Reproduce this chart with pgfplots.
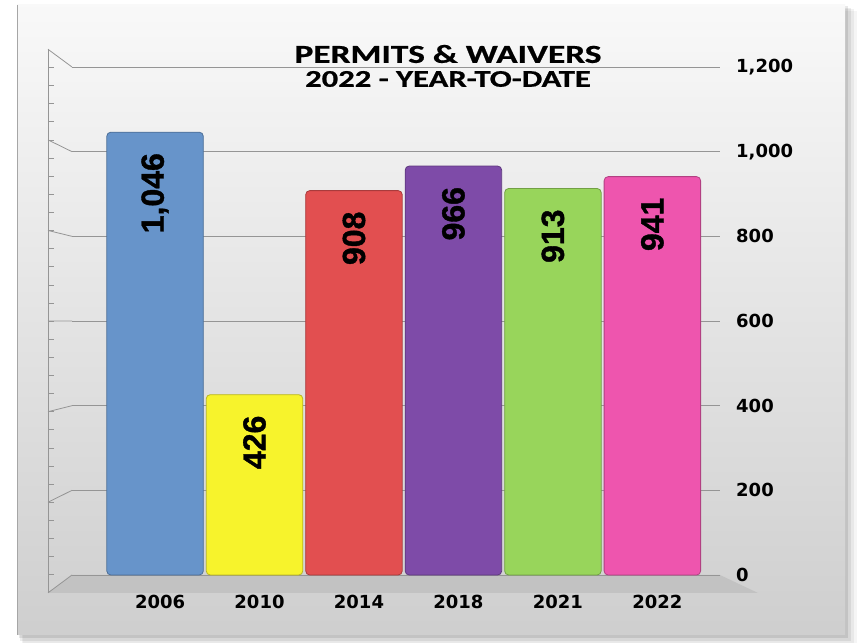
\documentclass[border=0pt]{standalone}
\usepackage{fontspec}
\setmainfont{DejaVu Sans}
\newfontfamily\titlefont{Carlito}[BoldFeatures={FakeBold=0.6}]
\newfontfamily\barfont{Liberation Sans}[BoldFeatures={FakeBold=1.2}]
\usepackage{pgfplots}
\pgfplotsset{compat=1.18}

\definecolor{cBlue}{HTML}{6794CA}
\definecolor{cYellow}{HTML}{F7F32C}
\definecolor{cRed}{HTML}{E24F50}
\definecolor{cPurple}{HTML}{7E4BA8}
\definecolor{cGreen}{HTML}{98D55B}
\definecolor{cPink}{HTML}{EE55AE}
\definecolor{cGrid}{HTML}{959595}

\pgfplotsset{
  colbar/.style={fill=#1, draw=#1!75!black, line width=0.8pt, bar shift=0pt, rounded corners=4pt},
}

\begin{document}
\begin{tikzpicture}[x=1pt,y=1pt]
\useasboundingbox (0,0) rectangle (864,642);
\fill[white] (0,0) rectangle (864,642);
% shadow round the panel
\foreach \d/\o in {12/0.04,9/0.05,6/0.07,3/0.09}{
  \fill[black,opacity=\o] (17+\d/2,7-\d) rectangle (845+\d,637-\d/2);
}
\shade[top color=gray!5, bottom color=gray!38] (17,7) rectangle (845,637);
\draw[gray!70, line width=1pt] (17,7) -- (17,637);

% floor
\fill[gray!48] (48,49) -- (72,67) -- (720,67) -- (758,49) -- cycle;

% left wall with connectors and minor ticks
\draw[cGrid, line width=0.8pt] (48,49.2) -- (48,592.7);
\foreach \v in {0,200,...,1200}{
  \pgfmathsetmacro{\gy}{67+\v*0.42333}
  \pgfmathsetmacro{\wy}{322+(\gy-322)*1.07}
  \draw[cGrid, line width=0.8pt] (48,\wy) -- (72,\gy);
}
\foreach \v in {40,80,...,1160}{
  \pgfmathsetmacro{\gy}{67+\v*0.42333}
  \pgfmathsetmacro{\wy}{322+(\gy-322)*1.07}
  \draw[cGrid, line width=0.6pt] (48,\wy) -- (54,\wy);
}

% title
\node[font=\titlefont\bfseries\fontsize{26}{26}\selectfont] at (448,588)
  {\scalebox{1.36}[1]{PERMITS \& WAIVERS}};
\node[font=\titlefont\bfseries\fontsize{24}{24}\selectfont] at (448,563)
  {\scalebox{1.36}[1]{2022 - YEAR-TO-DATE}};

\begin{axis}[
  at={(72pt,67pt)}, anchor=south west,
  scale only axis, width=648pt, height=508pt,
  xmin=-0.835, xmax=5.68, ymin=0, ymax=1200,
  ybar, bar width=0.97,
  axis line style={draw=none},
  ytick={0,200,...,1200}, ytick pos=right,
  major tick length=0pt,
  ymajorgrids, grid style={cGrid, line width=0.8pt},
  xtick={0,...,5},
  xticklabels={2006,2010,2014,2018,2021,2022},
  /pgf/number format/assume math mode=true,
  /pgf/number format/1000 sep={,},
  yticklabel style={font=\bfseries\fontsize{18}{18}\selectfont, anchor=west, inner sep=0pt, xshift=16pt},
  xticklabel style={font=\bfseries\fontsize{18}{18}\selectfont, anchor=north, inner sep=0pt, yshift=-20pt, xshift=5pt},
  nodes near coords,
  nodes near coords style={font=\barfont\bfseries\fontsize{32}{32}\selectfont, text=black,
    rotate=90, anchor=east, inner sep=0pt, outer xsep=21pt},
  clip=false,
]
\addplot[colbar=cBlue] coordinates {(0,1046)};
\addplot[colbar=cYellow] coordinates {(1,426)};
\addplot[colbar=cRed] coordinates {(2,908)};
\addplot[colbar=cPurple] coordinates {(3,966)};
\addplot[colbar=cGreen] coordinates {(4,913)};
\addplot[colbar=cPink] coordinates {(5,941)};
\end{axis}
\end{tikzpicture}
\end{document}
